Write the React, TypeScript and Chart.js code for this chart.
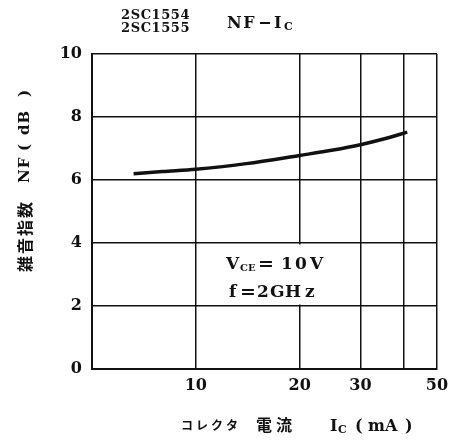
import React, { useEffect, useRef } from "react";
import { Chart, registerables } from "chart.js";

Chart.register(...registerables);

const currentMA = [6.6, 8, 10, 14, 20, 25, 30, 35, 41];
const noiseFigureDB = [6.2, 6.27, 6.34, 6.52, 6.78, 6.95, 7.12, 7.3, 7.52];
const xGridValues = [5, 10, 20, 30, 40, 50];
const xTickLabels = [10, 20, 30, 50];
const yTickStep = 2;

const SERIF = "'DejaVu Serif', serif";
const CJK = "'Noto Sans CJK JP', sans-serif";

function put(ctx: any, font: string, items: [string, number][], y: number) {
  ctx.font = font;
  for (const [t, x] of items) ctx.fillText(t, x, y);
}

const textPlugin = {
  id: "textPlugin",
  beforeDatasetsDraw(chart: any) {
    const { ctx, scales } = chart;
    const x = scales.x;
    const y = scales.y;
    const left = x.getPixelForValue(10) + 1.5;
    const right = x.getPixelForValue(27);
    const top = y.getPixelForValue(4) + 1.5;
    const bottom = y.getPixelForValue(2) - 1.5;
    ctx.save();
    ctx.fillStyle = "#fff";
    ctx.fillRect(left, top, right - left, bottom - top);
    ctx.restore();
  },
  afterDraw(chart: any) {
    const { ctx } = chart;
    ctx.save();
    ctx.fillStyle = "#111";
    ctx.textBaseline = "alphabetic";
    ctx.textAlign = "left";

    // titles
    ctx.font = `bold 13px ${SERIF}`;
    (ctx as any).letterSpacing = "0.6px";
    ctx.fillText("2SC1554", 121, 19);
    ctx.fillText("2SC1555", 121, 32);
    (ctx as any).letterSpacing = "1.5px";
    ctx.font = `bold 16px ${SERIF}`;
    ctx.fillText("NF", 227, 28);
    (ctx as any).letterSpacing = "0px";
    ctx.fillRect(260, 22, 10, 2);
    ctx.fillText("I", 274, 28);
    ctx.font = `bold 11px ${SERIF}`;
    ctx.fillText("C", 284, 30);

    // conditions
    put(ctx, `bold 17px ${SERIF}`, [["V", 226]], 269);
    put(ctx, `bold 10px ${SERIF}`, [["CE", 240]], 271);
    put(ctx, `bold 19px ${SERIF}`, [["=", 258]], 270);
    put(ctx, `bold 17px ${SERIF}`, [["1", 281], ["0", 295], ["V", 310]], 269);
    put(ctx, `bold 17px ${SERIF}`, [["f", 229]], 297);
    put(ctx, `bold 19px ${SERIF}`, [["=", 240]], 298);
    put(ctx, `bold 17px ${SERIF}`, [["2", 257], ["G", 270], ["H", 285], ["z", 305]], 297);

    // x axis title
    ctx.font = `bold 12px ${CJK}`;
    (ctx as any).letterSpacing = "3px";
    ctx.fillText("コレクタ", 181, 430);
    ctx.font = `bold 16px ${CJK}`;
    (ctx as any).letterSpacing = "4px";
    ctx.fillText("電流", 256, 431);
    (ctx as any).letterSpacing = "0px";
    ctx.font = `bold 16px ${SERIF}`;
    ctx.fillText("I", 330, 431);
    ctx.font = `bold 11px ${SERIF}`;
    ctx.fillText("C", 338, 433);
    ctx.font = `bold 16px ${SERIF}`;
    ctx.fillText("(", 355, 431);
    ctx.fillText("mA", 368, 431);
    ctx.fillText(")", 405, 431);

    // y axis title (rotated)
    ctx.translate(25, 272);
    ctx.rotate(-Math.PI / 2);
    ctx.textBaseline = "middle";
    ctx.font = `bold 16px ${CJK}`;
    (ctx as any).letterSpacing = "2px";
    ctx.fillText("雑音指数", 0, 0);
    (ctx as any).letterSpacing = "1px";
    ctx.font = `bold 15px ${SERIF}`;
    ctx.fillText("NF", 89, 0);
    ctx.fillText("(", 121, 0);
    ctx.fillText("dB", 137, 0);
    ctx.fillText(")", 175, 0);
    ctx.restore();
  },
};

export default function App() {
  const ref = useRef<HTMLCanvasElement | null>(null);
  useEffect(() => {
    document.body.style.margin = "0";
    if (!ref.current) return;
    const chart = new Chart(ref.current, {
      type: "line",
      data: {
        datasets: [
          {
            data: currentMA.map((v, i) => ({ x: v, y: noiseFigureDB[i] })),
            borderColor: "#111",
            borderWidth: 3.5,
            pointRadius: 0,
            cubicInterpolationMode: "monotone",
            fill: false,
          },
        ],
      },
      options: {
        animation: false,
        responsive: false,
        layout: { padding: { top: 54, right: 14, left: 0, bottom: 0 } },
        plugins: { legend: { display: false }, tooltip: { enabled: false } },
        scales: {
          x: {
            type: "logarithmic",
            min: 5,
            max: 50,
            afterFit: (s: any) => {
              s.height = 72;
              s.paddingRight = 0;
              s.paddingLeft = 0;
            },
            afterBuildTicks: (s: any) => {
              s.ticks = xGridValues.map((v) => ({ value: v }));
            },
            grid: { color: "#111", lineWidth: 1.5, drawTicks: false },
            border: { color: "#111", width: 2 },
            ticks: {
              autoSkip: false,
              maxRotation: 0,
              padding: 7,
              color: "#111",
              font: { family: "DejaVu Serif", weight: "bold", size: 16 },
              callback: (v: any) => (xTickLabels.includes(Number(v)) ? String(v) : ""),
            },
          },
          y: {
            min: 0,
            max: 10,
            afterFit: (s: any) => {
              s.width = 92;
              s.paddingTop = 0;
              s.paddingBottom = 0;
            },
            grid: { color: "#111", lineWidth: 1.5, drawTicks: false },
            border: { color: "#111", width: 2 },
            ticks: {
              stepSize: yTickStep,
              padding: 10,
              color: "#111",
              font: { family: "DejaVu Serif", weight: "bold", size: 16 },
            },
          },
        },
      },
      plugins: [textPlugin],
    } as any);
    return () => chart.destroy();
  }, []);
  return <canvas ref={ref} width={451} height={441} style={{ display: "block" }} />;
}
